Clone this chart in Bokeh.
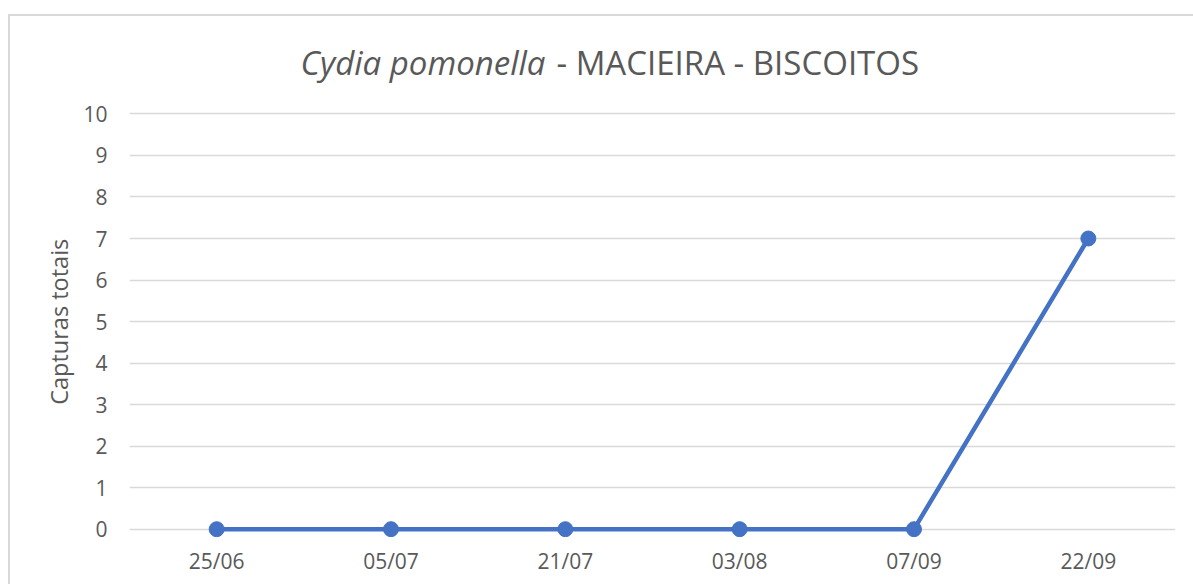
from bokeh.plotting import figure
from bokeh.models import (ColumnDataSource, FactorRange, Range1d, Label,
                          FixedTicker)
from bokeh.embed import file_html
from bokeh.resources import INLINE

dates = ["25/06", "05/07", "21/07", "03/08", "07/09", "22/09"]
captures = [0, 0, 0, 0, 0, 7]
y_ticks = [0, 1, 2, 3, 4, 5, 6, 7, 8, 9, 10]
title_italic = "Cydia pomonella"
title_rest = "- MACIEIRA - BISCOITOS"
y_label = "Capturas totais"

FONT = "Open Sans"
GREY = "#595959"
BLUE = "#4472C4"

W, H = 1193, 584
MB_L, MB_R, MB_T, MB_B = 129, 18, 20, 47

border_css = {
    "background-color": "white",
    "background-image": "linear-gradient(#d9d9d9, #d9d9d9), linear-gradient(#d9d9d9, #d9d9d9)",
    "background-size": "100% 2px, 2px 100%",
    "background-position": "8px 14px, 8px 14px",
    "background-repeat": "no-repeat",
}

# frame reaches up to the title area; gridlines only at the 0..10 ticks
p = figure(width=W, height=H, x_range=FactorRange(*dates, range_padding=0),
           y_range=Range1d(-0.2, 12.25), output_backend="svg",
           toolbar_location=None, min_border_left=MB_L, min_border_right=MB_R,
           min_border_top=MB_T, min_border_bottom=MB_B, styles=border_css)
p.outline_line_color = None
p.background_fill_color = "white"
p.border_fill_color = None

src = ColumnDataSource(dict(x=dates, y=captures))
p.line("x", "y", source=src, line_color=BLUE, line_width=4.5)
p.scatter("x", "y", source=src, size=15, fill_color=BLUE, line_color=BLUE)

p.xgrid.grid_line_color = None
p.ygrid.grid_line_color = "#d9d9d9"
p.ygrid.grid_line_width = 1.3
p.yaxis.ticker = FixedTicker(ticks=y_ticks)

for ax in (p.xaxis[0], p.yaxis[0]):
    ax.axis_line_color = None
    ax.major_tick_line_color = None
    ax.minor_tick_line_color = None
    ax.major_tick_out = 0
    ax.major_tick_in = 0
    ax.major_label_text_font = FONT
    ax.major_label_text_font_size = "21px"
    ax.major_label_text_color = GREY

p.xaxis.major_label_standoff = 9
p.yaxis.major_label_standoff = 22
# trailing no-break spaces keep the visible label centred on the 0..10 area
p.yaxis.axis_label = y_label + "\u00a0" * 14
p.yaxis.axis_label_text_font = FONT
p.yaxis.axis_label_text_font_size = "23.5px"
p.yaxis.axis_label_text_font_style = "normal"
p.yaxis.axis_label_text_color = GREY
p.yaxis.axis_label_standoff = 5

# title (screen units are relative to the frame: x from its left, y up from its bottom)
title_y = (H - MB_B) - 62
for txt, style, align, xs in ((title_italic, "italic", "right", 545),
                              (title_rest, "normal", "left", 556)):
    p.add_layout(Label(x=xs - MB_L, y=title_y, x_units="screen", y_units="screen",
                       text=txt, text_font=FONT, text_font_size="33px",
                       text_font_style=style, text_color=GREY,
                       text_align=align, text_baseline="middle"))

open("out.html", "w").write(file_html(p, INLINE))
